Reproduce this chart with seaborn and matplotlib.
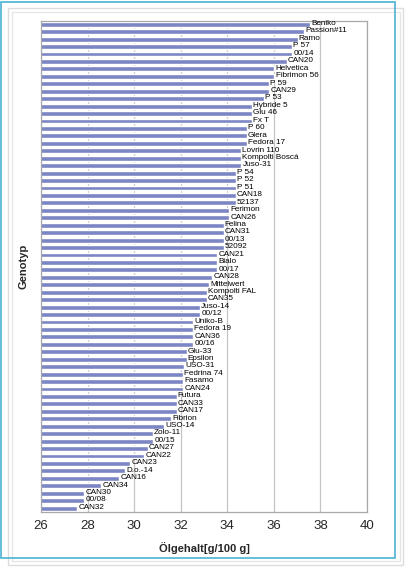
import pandas as pd
import seaborn as sns
import matplotlib.pyplot as plt
from matplotlib.patches import Rectangle

# genotypes from top to bottom, oil content in g/100 g
genotyp = ['Beniko', 'Passion#11', 'Ramo', 'P 57', '00/14', 'CAN20', 'Helvetica',
           'Fibrimon 56', 'P 59', 'CAN29', 'P 53', 'Hybride 5', 'Glu 46', 'Fx T',
           'P 60', 'Glera', 'Fedora 17', 'Lovrin 110', 'Kompolti Boscá', 'Juso-31',
           'P 54', 'P 52', 'P 51', 'CAN18', '52137', 'Ferimon', 'CAN26', 'Felina',
           'CAN31', '00/13', '52092', 'CAN21', 'Bialo', '00/17', 'CAN28', 'Mittelwert',
           'Kompolti FAL', 'CAN35', 'Juso-14', '00/12', 'Uniko-B', 'Fedora 19', 'CAN36',
           '00/16', 'Glu-33', 'Epsilon', 'USO-31', 'Fedrina 74', 'Fasamo', 'CAN24',
           'Futura', 'CAN33', 'CAN17', 'Fibrion', 'USO-14', 'Zolo-11', '00/15', 'CAN27',
           'CAN22', 'CAN23', 'D.o.-14', 'CAN16', 'CAN34', 'CAN30', '00/08', 'CAN32']
oelgehalt = [37.55, 37.29, 37.02, 36.79, 36.79, 36.55, 36.02,
             36.02, 35.80, 35.80, 35.59, 35.07, 35.07, 35.07,
             34.83, 34.83, 34.83, 34.60, 34.60, 34.60,
             34.37, 34.37, 34.37, 34.37, 34.37, 34.09, 34.09, 33.84,
             33.84, 33.84, 33.84, 33.57, 33.57, 33.57, 33.36, 33.23,
             33.11, 33.11, 32.83, 32.83, 32.54, 32.54, 32.54,
             32.54, 32.25, 32.25, 32.14, 32.10, 32.10, 32.10,
             31.82, 31.82, 31.82, 31.57, 31.30, 30.81, 30.81, 30.58,
             30.44, 29.82, 29.61, 29.36, 28.58, 27.85, 27.85, 27.56]
x_ticks = [26, 28, 30, 32, 34, 36, 38, 40]

df = pd.DataFrame({'Genotyp': genotyp, 'Oel': oelgehalt})

sns.set_style('white')
plt.rcParams['font.family'] = ['Liberation Sans', 'DejaVu Sans']

fig = plt.figure(figsize=(4.06, 5.70), dpi=100)
ax = fig.add_axes([0.101, 0.102, 0.803, 0.862])

sns.barplot(data=df, y='Genotyp', x='Oel', orient='h', color='#7c86c4',
            saturation=1, width=0.65, ax=ax)

for i, (name, val) in enumerate(zip(genotyp, oelgehalt)):
    ax.text(val + 0.05, i - 0.1, name, fontsize=5.9, va='center', ha='left', color='#000000')

ax.set_xlim(26, 40)
ax.set_ylim(len(genotyp) - 0.5, -0.5)
ax.set_xticks(x_ticks)
ax.set_xticklabels([str(t) for t in x_ticks], fontsize=9.5)
ax.set_yticks([])
ax.xaxis.grid(True, color='#c4c4c4', linewidth=0.9, linestyle='-')
ax.set_axisbelow(True)
ax.tick_params(axis='x', length=3, color='#aaaaaa', pad=3)
for s in ax.spines.values():
    s.set_color('#a8a8a8')
    s.set_linewidth(0.9)

ax.set_xlabel('Ölgehalt[g/100 g]', fontsize=8, fontweight='bold', labelpad=7)
ax.set_ylabel('Genotyp', fontsize=8, fontweight='bold', labelpad=9)

# frame around the picture
fig.patches.append(Rectangle((8 / 406, 5 / 570), 395 / 406, 557 / 570, transform=fig.transFigure,
                             fill=False, edgecolor='#dddddd', linewidth=1.0))
fig.patches.append(Rectangle((12 / 406, 9 / 570), 388 / 406, 549 / 570, transform=fig.transFigure,
                             fill=False, edgecolor='#e6e6e6', linewidth=1.0))
fig.patches.append(Rectangle((1.5 / 406, 12 / 570), 394 / 406, 556 / 570, transform=fig.transFigure,
                             fill=False, edgecolor='#4ab3d0', linewidth=1.2))

fig.savefig('out.png', dpi=100)
